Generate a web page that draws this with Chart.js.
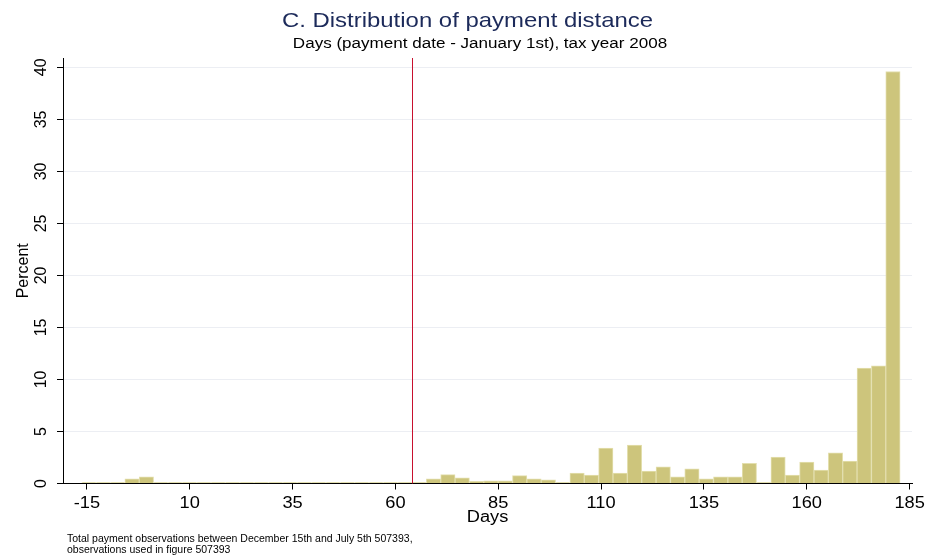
<!DOCTYPE html>
<html>
<head>
<meta charset="utf-8">
<script src="https://cdn.jsdelivr.net/npm/chart.js@4.4.1/dist/chart.umd.min.js"></script>
<style>
    html, body { margin: 0; padding: 0; background: #fff; }
    #wrap { width: 928px; height: 560px; }
</style>
</head>
<body>
<div id="wrap"><canvas id="graficoDistancia" width="928" height="560"></canvas></div>
<script>
// histograma: dias entre pagamento e 1 de janeiro, ano fiscal 2008
var binStart = -16.24;   // borda esquerda da primeira classe (dias)
var binWidth = 3.49;     // largura de cada classe (dias)
var percentValues = [
    0, 0, 0, 0.45, 0.65, 0, 0, 0, 0, 0,
    0, 0, 0, 0, 0, 0, 0, 0, 0, 0,
    0, 0, 0, 0, 0.45, 0.85, 0.55, 0.2, 0.25, 0.25,
    0.75, 0.45, 0.35, 0, 1.0, 0.8, 3.4, 1.0, 3.7, 1.2,
    1.6, 0.65, 1.4, 0.45, 0.65, 0.65, 1.95, 0, 2.55, 0.8,
    2.05, 1.3, 2.95, 2.15, 11.1, 11.3, 39.6
];
var xTickValues = [-15, 10, 35, 60, 85, 110, 135, 160, 185];
var yTickValues = [0, 5, 10, 15, 20, 25, 30, 35, 40];
var cutoffDay = 64;
var tituloTexto = 'C. Distribution of payment distance';
var subtituloTexto = 'Days (payment date - January 1st), tax year 2008';
var eixoX = 'Days';
var eixoY = 'Percent';
var notaLinhas = [
    'Total payment observations between December 15th and July 5th 507393,',
    'observations used in figure 507393'
];

var fonte = '"Liberation Sans", Arial, sans-serif';

document.addEventListener('DOMContentLoaded', function () {
    var ctx = document.getElementById('graficoDistancia').getContext('2d');

    var pontos = percentValues.map(function (v, i) {
        return { x: binStart + binWidth * (i + 0.5), y: v };
    });

    // texto esticado na horizontal, como na figura original
    function texto(c, s, x, y, tamanho, cor, align, sx) {
        c.save();
        c.font = tamanho + 'px ' + fonte;
        c.fillStyle = cor;
        c.textAlign = align;
        c.textBaseline = 'alphabetic';
        c.translate(x, y);
        c.scale(sx, 1);
        c.fillText(s, 0, 0);
        c.restore();
    }

    var fundo = {
        id: 'fundo',
        beforeDraw: function (chart) {
            var c = chart.ctx;
            c.save();
            c.fillStyle = '#fff';
            c.fillRect(0, 0, chart.width, chart.height);
            c.restore();
        }
    };

    var linhaCorte = {
        id: 'linhaCorte',
        afterDatasetsDraw: function (chart) {
            var c = chart.ctx, a = chart.chartArea;
            var x = Math.round(chart.scales.x.getPixelForValue(cutoffDay)) + 0.5;
            c.save();
            c.strokeStyle = '#C8102E';
            c.lineWidth = 1;
            c.beginPath();
            c.moveTo(x, a.top);
            c.lineTo(x, a.bottom);
            c.stroke();
            c.restore();
        }
    };

    var textos = {
        id: 'textos',
        afterDraw: function (chart) {
            var c = chart.ctx, a = chart.chartArea;
            var sx = chart.scales.x, sy = chart.scales.y;

            texto(c, tituloTexto, 467.5, 27.3, 21, '#1C2A5A', 'center', 1.14);
            texto(c, subtituloTexto, 480, 48.3, 15.5, '#000', 'center', 1.1);

            xTickValues.forEach(function (v) {
                texto(c, String(v), sx.getPixelForValue(v), 508, 16, '#000', 'center', 1.14);
            });
            texto(c, eixoX, (a.left + a.right) / 2, 521.7, 16, '#000', 'center', 1.14);

            // rótulos do eixo y, girados
            c.save();
            c.font = '16px ' + fonte;
            c.fillStyle = '#000';
            c.textAlign = 'center';
            c.textBaseline = 'alphabetic';
            yTickValues.forEach(function (v) {
                c.save();
                c.translate(46, sy.getPixelForValue(v));
                c.rotate(-Math.PI / 2);
                c.fillText(String(v), 0, 0);
                c.restore();
            });
            c.save();
            c.translate(28, (a.top + a.bottom) / 2);
            c.rotate(-Math.PI / 2);
            c.fillText(eixoY, 0, 0);
            c.restore();
            c.restore();

            texto(c, notaLinhas[0], 67, 541.5, 10.5, '#000', 'left', 1.0);
            texto(c, notaLinhas[1], 67, 552.5, 10.5, '#000', 'left', 1.0);
        }
    };

    new Chart(ctx, {
        type: 'bar',
        data: {
            datasets: [{
                data: pontos,
                backgroundColor: '#CDC57C',
                borderColor: '#E3DFAE',
                borderWidth: 1,
                barPercentage: 1,
                categoryPercentage: 1,
                minBarLength: 1
            }]
        },
        options: {
            responsive: false,
            animation: false,
            layout: { padding: { left: 0, top: 58, right: 16, bottom: 0 } },
            plugins: {
                legend: { display: false },
                tooltip: { enabled: false }
            },
            scales: {
                x: {
                    type: 'linear',
                    offset: false,
                    min: -20.81,
                    max: 185.58,
                    afterBuildTicks: function (s) {
                        s.ticks = xTickValues.map(function (v) { return { value: v }; });
                    },
                    afterFit: function (s) { s.height = 76.5; },
                    ticks: { display: false },
                    grid: { offset: false, drawOnChartArea: false, tickColor: '#000', tickLength: 6 },
                    border: { color: '#000', width: 1 }
                },
                y: {
                    min: 0,
                    max: 40.9,
                    afterBuildTicks: function (s) {
                        s.ticks = yTickValues.map(function (v) { return { value: v }; });
                    },
                    afterFit: function (s) { s.width = 63; },
                    ticks: { display: false },
                    grid: { color: '#ECEEF3', tickColor: '#000', tickLength: 6 },
                    border: { color: '#000', width: 1 }
                }
            }
        },
        plugins: [fundo, linhaCorte, textos]
    });
});
</script>
</body>
</html>
